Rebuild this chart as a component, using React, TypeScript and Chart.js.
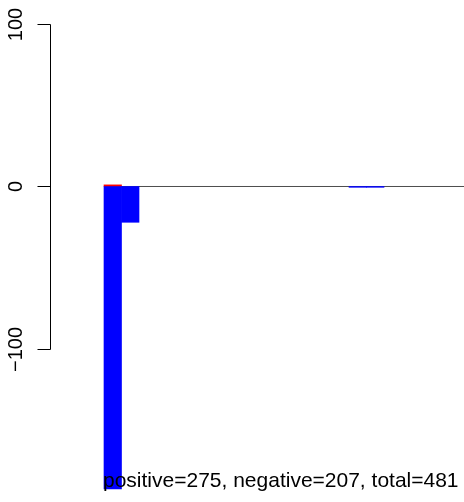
import React, { useEffect, useRef } from "react";
import { Chart, registerables } from "chart.js";

Chart.register(...registerables);

// Data
const barPositions = [0.5, 1.5, 2.5, 3.5, 4.5, 5.5, 6.5, 7.5, 8.5, 9.5, 10.5, 11.5, 12.5, 13.5, 14.5, 15.5, 16.5, 17.5, 18.5, 19.5, 20.5];
const positiveValues = [1, 0, 0, 0, 0, 0, 0, 0, 0, 0, 0, 0, 0, 0, 0, 0, 0, 0, 0, 0, 0];
const negativeValues = [-186, -22, 0, 0, 0, 0, 0, 0, 0, 0, 0, 0, 0, 0, -0.5, -0.5, 0, 0, 0, 0, 0];
const baselineX = [0, 24];
const baselineY = [0, 0];
const yTicks = [-100, 0, 100];
const summaryText = "positive=275, negative=207, total=481";

const FONT = "20px 'Liberation Sans', Arial, Helvetica, sans-serif";
const SUMMARY_FONT = "21px 'Liberation Sans', Arial, Helvetica, sans-serif";

const rAxisPlugin = {
  id: "rAxis",
  afterDraw(chart: any) {
    const ctx = chart.ctx;
    const y = chart.scales.y;
    const x = chart.scales.x;
    const axX = chart.chartArea.left - 0.5;
    ctx.save();
    ctx.strokeStyle = "#000";
    ctx.lineWidth = 1;
    const top = Math.round(y.getPixelForValue(Math.max(...yTicks))) + 0.5;
    const bot = Math.round(y.getPixelForValue(Math.min(...yTicks))) + 0.5;
    ctx.beginPath();
    ctx.moveTo(axX, top);
    ctx.lineTo(axX, bot);
    ctx.stroke();
    ctx.font = FONT;
    ctx.fillStyle = "#000";
    for (const t of yTicks) {
      const py = Math.round(y.getPixelForValue(t)) + 0.5;
      ctx.beginPath();
      ctx.moveTo(axX - 13, py);
      ctx.lineTo(axX, py);
      ctx.stroke();
      ctx.save();
      ctx.translate(22, py);
      ctx.rotate(-Math.PI / 2);
      ctx.textAlign = "center";
      ctx.textBaseline = "alphabetic";
      ctx.fillText(t < 0 ? "\u2212" + Math.abs(t) : String(t), 0, 0);
      ctx.restore();
    }
    ctx.font = SUMMARY_FONT;
    ctx.textAlign = "left";
    ctx.textBaseline = "alphabetic";
    ctx.fillText(summaryText, x.getPixelForValue(0) - 1, 487);
    ctx.restore();
  },
};

const nz = (v: number) => (v === 0 ? null : v);

export default function App() {
  const ref = useRef<HTMLCanvasElement>(null);
  useEffect(() => {
    if (!ref.current) return;
    const chart = new Chart(ref.current, {
      type: "bar",
      data: {
        datasets: [
          {
            type: "bar",
            label: "positive",
            data: barPositions.map((x, i) => ({ x, y: nz(positiveValues[i]) })),
            backgroundColor: "#ff0000",
            borderWidth: 0,
            barPercentage: 1,
            categoryPercentage: 1,
            stack: "bars",
            order: 1,
          },
          {
            type: "bar",
            label: "negative",
            data: barPositions.map((x, i) => ({ x, y: nz(negativeValues[i]) })),
            backgroundColor: "#0000ff",
            borderWidth: 0,
            barPercentage: 1,
            categoryPercentage: 1,
            stack: "bars",
            order: 0,
          },
          {
            type: "line",
            label: "baseline",
            data: baselineX.map((x, i) => ({ x, y: baselineY[i] })),
            borderColor: "#4d4d4d",
            borderWidth: 1,
            pointRadius: 0,
            fill: false,
            stack: "line",
            order: 5,
          } as any,
        ],
      },
      options: {
        responsive: false,
        animation: false,
        layout: { padding: { left: 51, right: 0, top: 0, bottom: 0 } },
        plugins: { legend: { display: false }, tooltip: { enabled: false }, title: { display: false } },
        scales: {
          x: {
            type: "linear",
            display: false,
            offset: false,
            min: -3.0286,
            max: 20.571,
            stacked: true,
          },
          y: {
            type: "linear",
            display: false,
            min: -193.97,
            max: 114.66,
            stacked: true,
          },
        },
      },
      plugins: [rAxisPlugin],
    });
    return () => chart.destroy();
  }, []);
  return (
    <div style={{ position: "absolute", left: 0, top: 0, width: 464, height: 502, background: "#fff" }}>
      <canvas ref={ref} width={464} height={502} style={{ display: "block" }} />
    </div>
  );
}
